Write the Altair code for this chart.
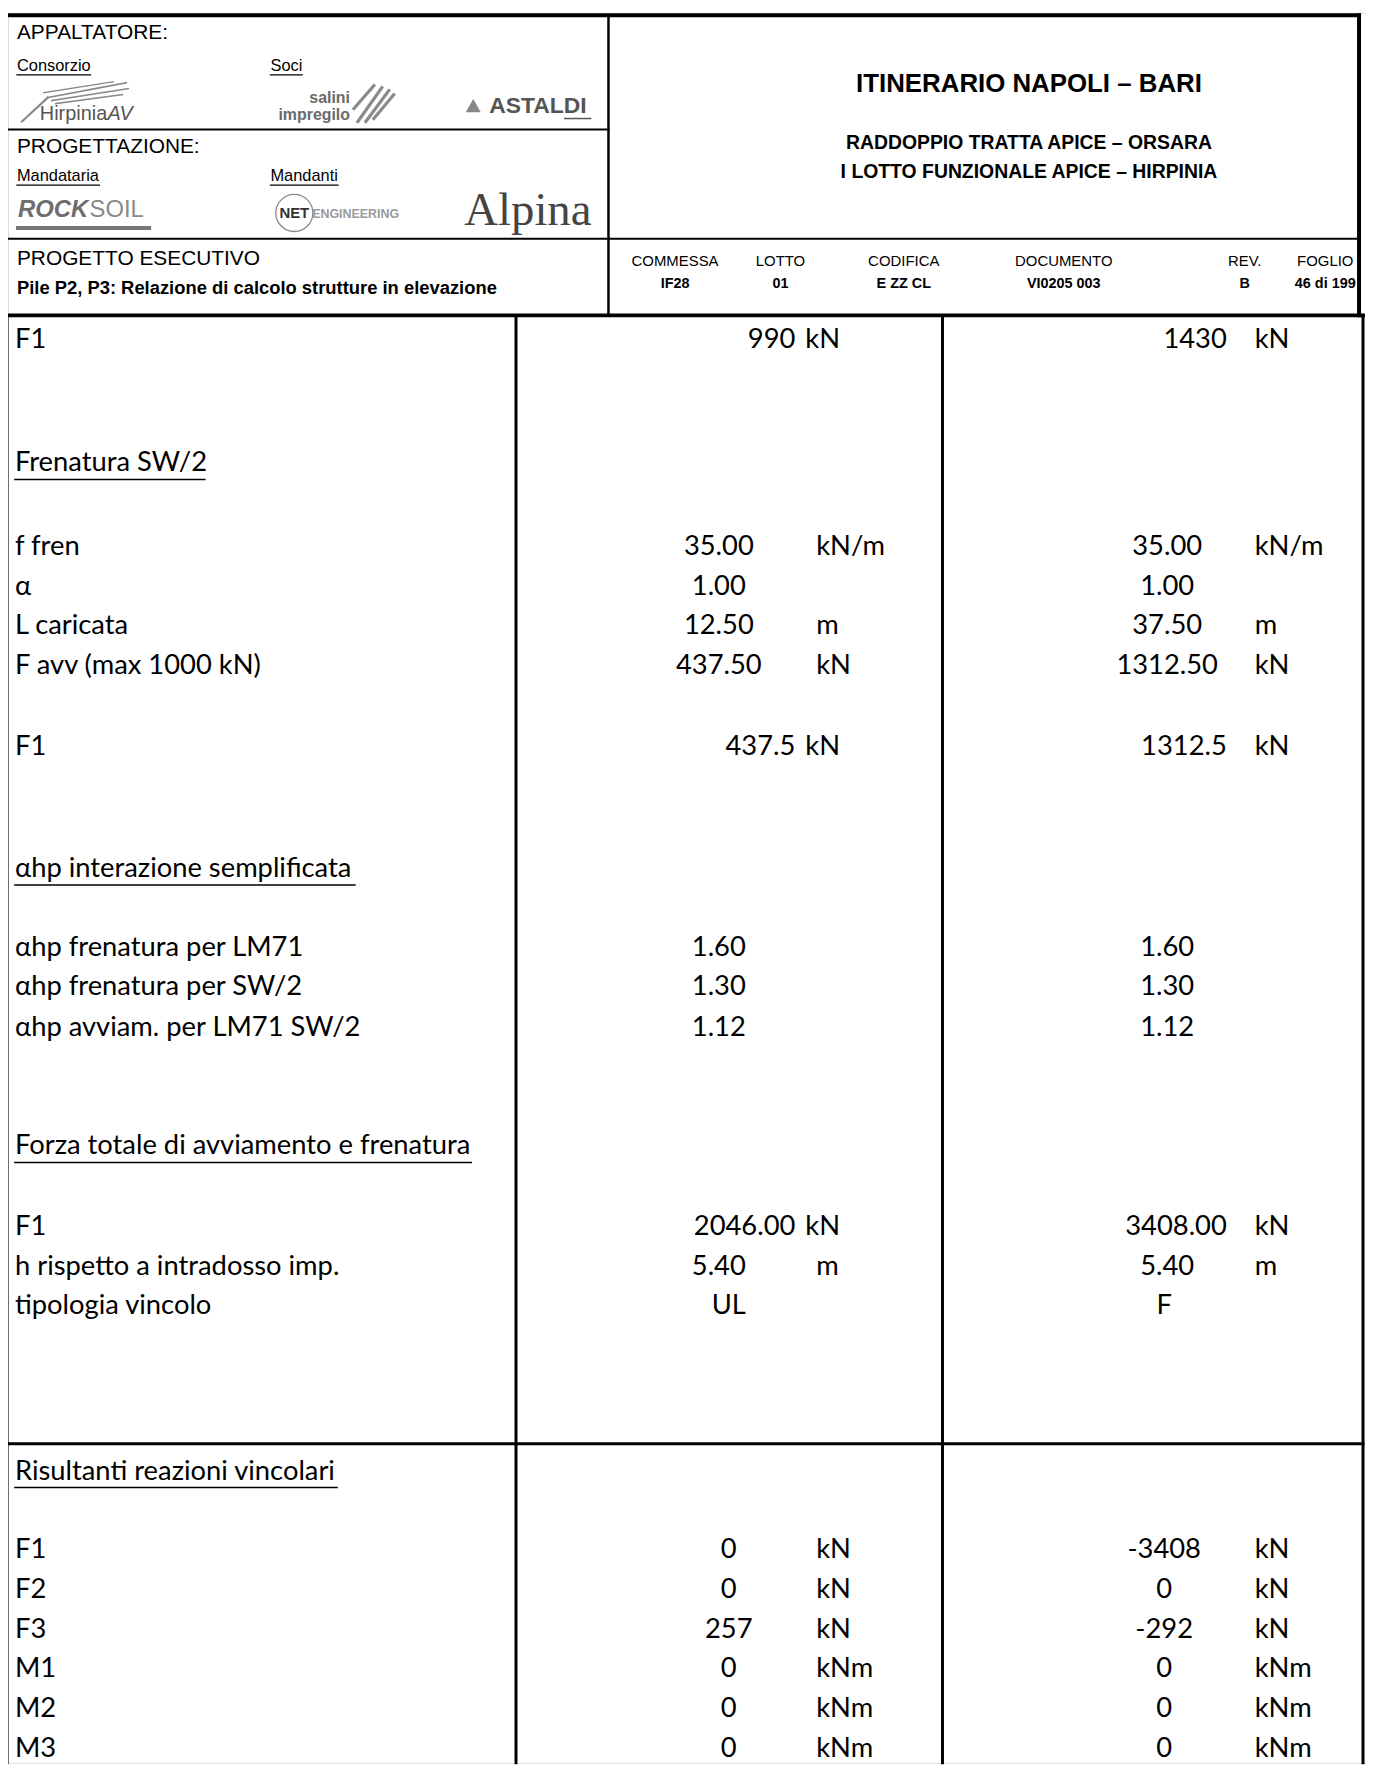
import altair as alt
import pandas as pd

# ---------------- data (text content) ----------------
left_titles = ["APPALTATORE:", "PROGETTAZIONE:", "PROGETTO ESECUTIVO"]
left_subs = ["Consorzio", "Soci", "Mandataria", "Mandanti"]
doc_subtitle = ["Pile P2, P3: Relazione di calcolo strutture in elevazione"]
title_main = ["ITINERARIO NAPOLI – BARI"]
title_sub = ["RADDOPPIO TRATTA APICE – ORSARA", "I LOTTO FUNZIONALE APICE – HIRPINIA"]
code_labels = ["COMMESSA", "LOTTO", "CODIFICA", "DOCUMENTO", "REV.", "FOGLIO"]
code_values = ["IF28", "01", "E ZZ CL", "VI0205 003", "B", "46 di 199"]

row_labels = ["F1", "Frenatura SW/2", "f fren", "α", "L caricata", "F avv (max 1000 kN)",
              "F1", "αhp interazione semplificata", "αhp frenatura per LM71",
              "αhp frenatura per SW/2", "αhp avviam. per LM71 SW/2",
              "Forza totale di avviamento e frenatura", "F1", "h rispetto a intradosso imp.",
              "tipologia vincolo", "Risultanti reazioni vincolari",
              "F1", "F2", "F3", "M1", "M2", "M3"]
heading_flags = [0, 1, 0, 0, 0, 0, 0, 1, 0, 0, 0, 1, 0, 0, 0, 1, 0, 0, 0, 0, 0, 0]
col1_values = ["990", "", "35.00", "1.00", "12.50", "437.50", "437.5", "", "1.60", "1.30", "1.12",
               "", "2046.00", "5.40", "UL", "", "0", "0", "257", "0", "0", "0"]
col1_units = ["kN", "", "kN/m", "", "m", "kN", "kN", "", "", "", "",
              "", "kN", "m", "", "", "kN", "kN", "kN", "kNm", "kNm", "kNm"]
col2_values = ["1430", "", "35.00", "1.00", "37.50", "1312.50", "1312.5", "", "1.60", "1.30", "1.12",
               "", "3408.00", "5.40", "F", "", "-3408", "0", "-292", "0", "0", "0"]
col2_units = ["kN", "", "kN/m", "", "m", "kN", "kN", "", "", "", "",
              "", "kN", "m", "", "", "kN", "kN", "kN", "kNm", "kNm", "kNm"]
# alignment of each value cell: r = right (number with unit format), c = centred decimal, i = centred integer/text
value_kind = ["r", "", "c", "c", "c", "c", "r", "", "c", "c", "c",
              "", "r", "c", "i", "", "i", "i", "i", "i", "i", "i"]

# ---------------- layout (page pixels) ----------------
W, H, M = 1374, 1768, 8
row_y = [337, 461, 545, 585, 625, 665, 746, 869, 948, 988, 1029, 1148, 1229, 1269, 1309,
         1475, 1554, 1594, 1634, 1674, 1714, 1754]
heading_len = {1: 206, 7: 357, 11: 474, 15: 339}
LABEL_X = 15
COL = {  # per value column: right edge, centre decimal, centre integer, unit x, formatted-unit x
    1: dict(r=800, c=723, i=733, u=821, fu=810),
    2: dict(r=1234, c=1174, i=1171, u=1262, fu=1262),
}
code_x = [679, 785, 909, 1070, 1252, 1333]

xs = alt.Scale(domain=[M, W], range=[0, W - M])
ys = alt.Scale(domain=[M, H], range=[0, H - M])
XY = dict(x=alt.X("x:Q", scale=xs, axis=None), y=alt.Y("y:Q", scale=ys, axis=None))


def txt(rows, size, font="Liberation Sans", weight="normal", align="left", color="#000000",
        style="normal"):
    df = pd.DataFrame(rows, columns=["x", "y", "t"])
    return alt.Chart(df).mark_text(font=font, fontSize=size, fontWeight=weight, align=align,
                                   baseline="middle", color=color, fontStyle=style).encode(
        text="t:N", **XY)


def rules(rows, color="#000000"):
    df = pd.DataFrame(rows, columns=["x", "x2", "y", "y2", "w"])
    return alt.Chart(df).mark_rule(color=color, strokeCap="square").encode(
        x=alt.X("x:Q", scale=xs, axis=None), x2="x2:Q",
        y=alt.Y("y:Q", scale=ys, axis=None), y2="y2:Q",
        strokeWidth=alt.StrokeWidth("w:Q", scale=None))


layers = []

# frame lines
frame = [
    (6, 1367, 10, 10, 4), (6, 6, 10, 312, 4), (1367, 1367, 10, 312, 4),
    (6, 612, 125, 125, 2), (6, 1367, 235, 235, 2), (612, 612, 10, 312, 2.5),
    (6, 1371, 312, 312, 4),
    (7, 7, 312, 1768, 3), (1371, 1371, 312, 1768, 3),
    (519, 519, 312, 1768, 3), (948, 948, 312, 1768, 3),
    (7, 1371, 1447, 1447, 3),
]
layers.append(rules(frame))

# header left texts
layers.append(txt([(17, 28, left_titles[0]), (17, 143, left_titles[1]), (17, 255, left_titles[2])], 21))
layers.append(txt([(17, 61, left_subs[0]), (272, 61, left_subs[1]),
                   (17, 172, left_subs[2]), (272, 172, left_subs[3])], 16.5))
layers.append(rules([(17, 91, 70, 70, 1.2), (272, 304, 70, 70, 1.2),
                     (17, 100, 181, 181, 1.2), (272, 340, 181, 181, 1.2)]))
layers.append(txt([(17, 285, doc_subtitle[0])], 18.5, weight="bold"))

# logos (approximated)
layers.append(rules([(22, 48, 117, 93, 2.2), (48, 127, 93, 78, 1.6), (52, 129, 96, 84, 1.6),
                     (56, 123, 99, 90, 1.6), (44, 114, 88, 77, 1.3),
                     (360, 384, 117, 83, 3.2), (368, 391, 117, 86, 3.2), (376, 396, 114, 90, 3.2),
                     (356, 376, 104, 81, 3.2)], color="#8a8a8a"))
layers.append(txt([(40, 109, "Hirpinia")], 20, color="#555555"))
layers.append(txt([(108, 109, "AV")], 20, color="#555555", style="italic"))
layers.append(txt([(352, 93, "salini"), (352, 110, "impregilo")], 16, weight="bold",
                  align="right", color="#6a6a6a"))
ast = pd.DataFrame({"x": [476], "y": [101]})
layers.append(alt.Chart(ast).mark_point(shape="triangle-up", filled=True, size=230,
                                        color="#555555").encode(**XY))
layers.append(txt([(492, 101, "ASTALDI")], 23, weight="bold", color="#555555"))
layers.append(rules([(568, 594, 114, 114, 1.5)], color="#555555"))
layers.append(txt([(18, 206, "ROCK")], 24, weight="bold", color="#6e6e6e", style="italic"))
layers.append(txt([(90, 206, "SOIL")], 24, color="#8a8a8a"))
layers.append(rules([(18, 150, 224, 224, 4)], color="#777777"))
net = pd.DataFrame({"x": [296], "y": [209]})
layers.append(alt.Chart(net).mark_point(shape="circle", filled=False, size=1390,
                                        color="#555555", strokeWidth=1.3).encode(**XY))
layers.append(txt([(296, 209, "NET")], 15, weight="bold", align="center", color="#333333"))
layers.append(txt([(314, 210, "ENGINEERING")], 12.5, weight="bold", color="#9a9a9a"))
layers.append(txt([(467, 207, "Alpina")], 47, font="Liberation Serif", color="#444444"))

# header right texts
HF = "Liberation Sans"
layers.append(txt([(1035, 79, title_main[0])], 26, font=HF, weight="bold", align="center"))
layers.append(txt([(1035, 139, title_sub[0]), (1035, 168, title_sub[1])], 19.5, font=HF,
                  weight="bold", align="center"))
layers.append(txt([(x, 257, t) for x, t in zip(code_x, code_labels)], 15, font=HF, align="center"))
layers.append(txt([(x, 280, t) for x, t in zip(code_x, code_values)], 14.5, font=HF,
                  weight="bold", align="center"))

# body
BODY = "Lato, Carlito, Calibri"
BS = 27.5
layers.append(txt([(LABEL_X, y, t) for y, t in zip(row_y, row_labels)], BS, font=BODY))
layers.append(rules([(LABEL_X, heading_len[i], row_y[i] + 16, row_y[i] + 16, 1.5)
                     for i, f in enumerate(heading_flags) if f]))

right_rows, center_rows, unit_rows = [], [], []
for c, vals, units in ((1, col1_values, col1_units), (2, col2_values, col2_units)):
    g = COL[c]
    for y, v, u, k in zip(row_y, vals, units, value_kind):
        if v:
            if k == "r":
                right_rows.append((g["r"], y, v))
            else:
                center_rows.append((g[k], y, v))
        if u:
            unit_rows.append((g["fu"] if k == "r" else g["u"], y, u))
layers.append(txt(right_rows, BS, font=BODY, align="right"))
layers.append(txt(center_rows, BS, font=BODY, align="center"))
layers.append(txt(unit_rows, BS, font=BODY))

chart = alt.layer(*layers).properties(
    width=W - M, height=H - M, padding=0,
    autosize=alt.AutoSizeParams(type="none"),
).configure_view(stroke=None).configure(background="white")

chart.save("out.html", embed_options={"renderer": "svg", "actions": False})
